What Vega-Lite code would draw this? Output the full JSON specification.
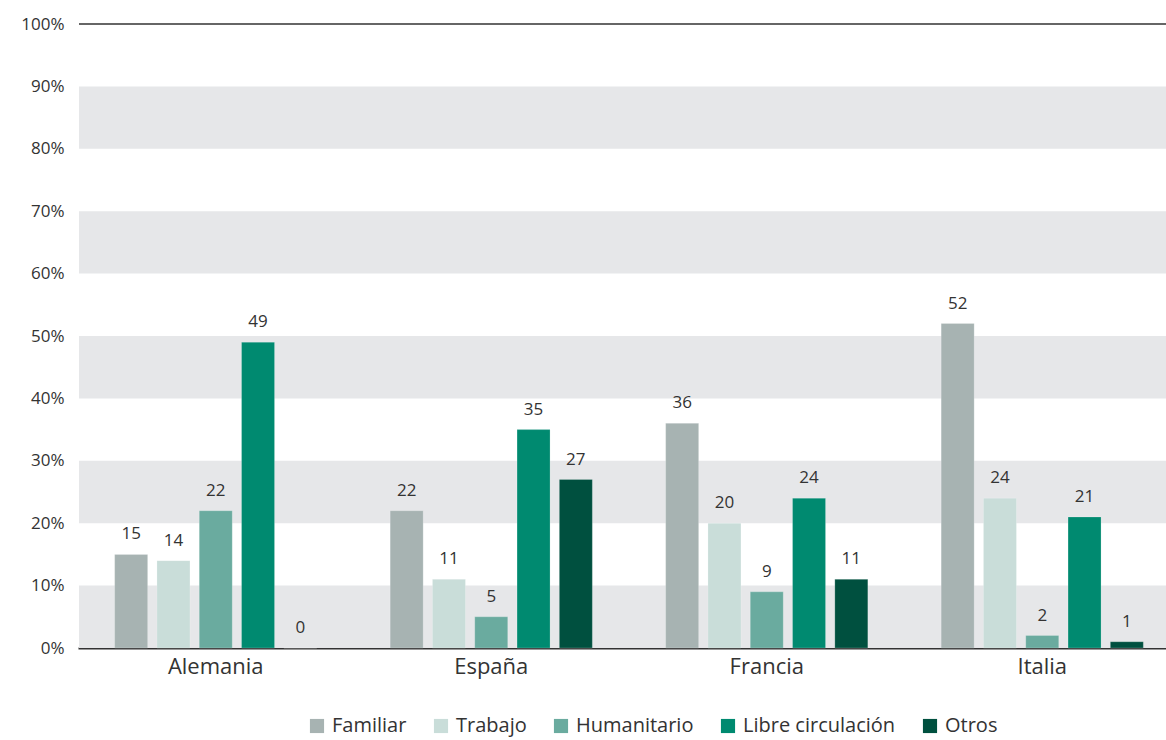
{
  "$schema": "https://vega.github.io/schema/vega-lite/v6.json",
  "width": 1087,
  "height": 624,
  "autosize": {"type": "none"},
  "padding": {"left": 79, "top": 24, "right": 0, "bottom": 92},
  "background": "white",
  "config": {"view": {"stroke": null}, "font": "Open Sans"},
  "datasets": {
    "bars": [
      {"pais": "Alemania", "motivo": "Familiar", "valor": 15},
      {"pais": "Alemania", "motivo": "Trabajo", "valor": 14},
      {"pais": "Alemania", "motivo": "Humanitario", "valor": 22},
      {"pais": "Alemania", "motivo": "Libre circulación", "valor": 49},
      {"pais": "Alemania", "motivo": "Otros", "valor": 0},
      {"pais": "España", "motivo": "Familiar", "valor": 22},
      {"pais": "España", "motivo": "Trabajo", "valor": 11},
      {"pais": "España", "motivo": "Humanitario", "valor": 5},
      {"pais": "España", "motivo": "Libre circulación", "valor": 35},
      {"pais": "España", "motivo": "Otros", "valor": 27},
      {"pais": "Francia", "motivo": "Familiar", "valor": 36},
      {"pais": "Francia", "motivo": "Trabajo", "valor": 20},
      {"pais": "Francia", "motivo": "Humanitario", "valor": 9},
      {"pais": "Francia", "motivo": "Libre circulación", "valor": 24},
      {"pais": "Francia", "motivo": "Otros", "valor": 11},
      {"pais": "Italia", "motivo": "Familiar", "valor": 52},
      {"pais": "Italia", "motivo": "Trabajo", "valor": 24},
      {"pais": "Italia", "motivo": "Humanitario", "valor": 2},
      {"pais": "Italia", "motivo": "Libre circulación", "valor": 21},
      {"pais": "Italia", "motivo": "Otros", "valor": 1}
    ],
    "bands": [
      {"y0": 0, "y1": 10},
      {"y0": 20, "y1": 30},
      {"y0": 40, "y1": 50},
      {"y0": 60, "y1": 70},
      {"y0": 80, "y1": 90}
    ],
    "top": [{"v": 100}]
  },
  "layer": [
    {
      "data": {"name": "bands"},
      "mark": {"type": "rect", "color": "#e6e7e9"},
      "encoding": {
        "y": {"field": "y0", "type": "quantitative"},
        "y2": {"field": "y1"}
      }
    },
    {
      "data": {"name": "top"},
      "mark": {"type": "rule", "color": "#666666", "strokeWidth": 2},
      "encoding": {"y": {"field": "v", "type": "quantitative"}}
    },
    {
      "data": {"name": "bars"},
      "mark": {"type": "bar", "stroke": "white", "strokeOpacity": 0.4, "strokeWidth": 0.5},
      "encoding": {
        "x": {
          "field": "pais", "type": "nominal",
          "sort": ["Alemania", "España", "Francia", "Italia"],
          "scale": {"range": [-1, 1101], "paddingInner": 0, "paddingOuter": 0},
          "axis": {
            "title": null, "labelAngle": 0, "labelFontSize": 22, "labelColor": "#333333",
            "labelPadding": 8, "ticks": false, "domainColor": "#333333", "domainWidth": 2,
            "labelFont": "Open Sans"
          }
        },
        "xOffset": {
          "field": "motivo", "type": "nominal",
          "sort": ["Familiar", "Trabajo", "Humanitario", "Libre circulación", "Otros"],
          "scale": {"paddingInner": 0.22, "paddingOuter": 0.867}
        },
        "y": {
          "field": "valor", "type": "quantitative",
          "scale": {"domain": [0, 100], "nice": false},
          "axis": {
            "title": null, "values": [0, 10, 20, 30, 40, 50, 60, 70, 80, 90, 100],
            "labelExpr": "datum.value + '%'", "grid": false, "ticks": false, "domain": false,
            "labelFontSize": 17, "labelColor": "#333333", "labelPadding": 15, "labelFont": "Open Sans"
          }
        },
        "color": {
          "field": "motivo", "type": "nominal",
          "scale": {
            "domain": ["Familiar", "Trabajo", "Humanitario", "Libre circulación", "Otros"],
            "range": ["#a7b3b2", "#c9ddd9", "#6aab9f", "#008a70", "#00503f"]
          },
          "legend": {
            "title": null, "orient": "none", "direction": "horizontal",
            "legendX": 228, "legendY": 692,
            "symbolType": "square", "symbolSize": 200, "symbolStrokeWidth": 0,
            "labelFontSize": 20, "labelColor": "#333333", "labelFont": "Open Sans",
            "columnPadding": 24, "labelOffset": 5
          }
        }
      }
    },
    {
      "data": {"name": "bars"},
      "mark": {"type": "text", "baseline": "bottom", "dy": -11, "fontSize": 17, "color": "#333333", "font": "Open Sans"},
      "encoding": {
        "x": {"field": "pais", "type": "nominal", "sort": ["Alemania", "España", "Francia", "Italia"]},
        "xOffset": {"field": "motivo", "type": "nominal", "sort": ["Familiar", "Trabajo", "Humanitario", "Libre circulación", "Otros"]},
        "y": {"field": "valor", "type": "quantitative"},
        "text": {"field": "valor", "type": "quantitative"}
      }
    }
  ]
}
